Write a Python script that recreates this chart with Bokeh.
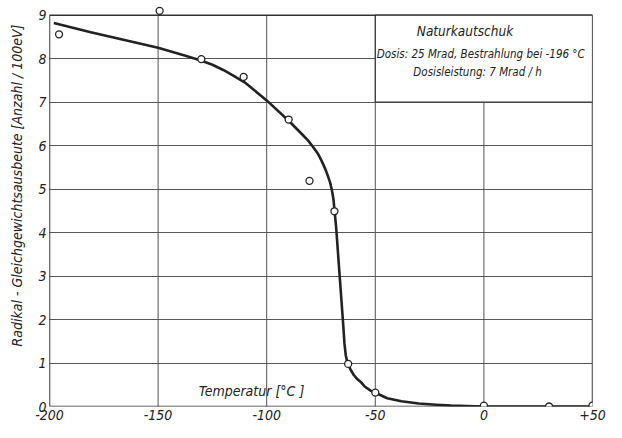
from bokeh.plotting import figure
from bokeh.models import FixedTicker, Label, Range1d, Title
from bokeh.embed import file_html
from bokeh.resources import INLINE

# measured points (temperature in degC, radical yield per 100 eV)
temp_points = [-195.6, -149.3, -130.1, -110.6, -89.9, -80.3, -68.8, -62.5, -50, 0, 30, 50]
yield_points = [8.56, 9.10, 7.99, 7.58, 6.60, 5.19, 4.49, 0.98, 0.32, 0.02, 0.0, 0.02]

# drawn curve
curve_temp = [-198, -181, -166.5, -150, -137, -130, -125, -120, -115, -110, -100, -89.4,
              -83.5, -81, -78.8, -76.5, -74.7, -73, -71.8, -70.8, -70.0, -69.3, -68.8,
              -68.0, -67.2, -66.4, -65.6, -64.8, -64.2, -63.6, -63.0, -62.5, -61.5,
              -60.0, -58.5, -56.4, -54.9, -52, -48, -44.5, -38, -30, -22, -15, -8, 0, 15, 30, 50]
curve_yield = [8.82, 8.61, 8.44, 8.25, 8.06, 7.95, 7.86, 7.74, 7.60, 7.45, 7.04, 6.55,
               6.25, 6.12, 5.98, 5.82, 5.65, 5.46, 5.30, 5.15, 4.98, 4.78, 4.53,
               4.10, 3.55, 3.00, 2.45, 1.90, 1.45, 1.18, 1.04, 0.97, 0.86,
               0.73, 0.64, 0.55, 0.46, 0.36, 0.27, 0.19, 0.12, 0.07, 0.04, 0.02, 0.01, 0.0, 0.0, 0.0, 0.0]

x_ticks = [-200, -150, -100, -50, 0, 50]
x_tick_labels = ["-200", "-150", "-100", "-50", "0", "+50"]
y_ticks = [0, 1, 2, 3, 4, 5, 6, 7, 8, 9]
x_min, x_max = -200, 50
y_min, y_max = 0, 9

title_text = "Naturkautschuk"
info_line1 = "Dosis: 25 Mrad,  Bestrahlung bei -196 °C"
info_line2 = "Dosisleistung: 7 Mrad / h"
x_title = "Temperatur [°C ]"
y_title = "Radikal - Gleichgewichtsausbeute [Anzahl / 100eV]"

FONT = "DejaVu Sans Condensed"
INK = "#222222"
GRID = "#555555"

p = figure(width=606, height=422, output_backend="svg", toolbar_location=None,
           x_range=Range1d(x_min, x_max), y_range=Range1d(y_min, 9.2),
           min_border_left=46, min_border_right=14, min_border_top=6, min_border_bottom=16)
p.outline_line_color = None
p.background_fill_color = "white"
p.border_fill_color = "white"

# axes
p.xaxis.ticker = FixedTicker(ticks=x_ticks)
p.yaxis.ticker = FixedTicker(ticks=y_ticks)
p.xaxis.major_label_overrides = {t: l for t, l in zip(x_ticks, x_tick_labels)}
for ax in (p.xaxis, p.yaxis):
    ax.axis_line_color = None
    ax.major_tick_line_color = None
    ax.minor_tick_line_color = None
    ax.major_tick_out = 0
    ax.major_tick_in = 0
    ax.major_label_text_font = FONT
    ax.major_label_text_font_style = "italic"
    ax.major_label_text_font_size = "14px"
    ax.major_label_text_color = INK
    ax.major_label_standoff = 3

# y axis title, shifted along the axis like in the reference
p.add_layout(Title(text=y_title, align="left", offset=60, standoff=17, vertical_align="top",
                   text_font=FONT, text_font_style="italic", text_font_size="14px",
                   text_color=INK), "left")

# grid
p.xgrid.grid_line_color = None
p.ygrid.ticker = FixedTicker(ticks=y_ticks)
p.ygrid.grid_line_color = GRID
p.ygrid.grid_line_width = 1
p.segment(x0=x_ticks, y0=[y_min] * len(x_ticks), x1=x_ticks, y1=[y_max] * len(x_ticks),
          line_color=GRID, line_width=1)

# frame border
p.quad(left=[x_min], right=[x_max], bottom=[y_min], top=[y_max],
       fill_color=None, line_color="#333333", line_width=1.5)

# info box
p.quad(left=[-50], right=[50], bottom=[7], top=[9],
       fill_color="white", line_color="#333333", line_width=1.2)

# curve and points
p.line(curve_temp, curve_yield, line_color=INK, line_width=2.6, line_join="round")
p.scatter(temp_points, yield_points, marker="circle", size=7,
          fill_color="white", line_color=INK, line_width=1.3)

# texts
p.add_layout(Label(x=-8.7, y=8.63, text=title_text, text_align="center", text_baseline="middle",
                   text_font=FONT, text_font_style="italic", text_font_size="13.5px", text_color=INK))
p.add_layout(Label(x=-0.7, y=8.11, text=info_line1, text_align="center", text_baseline="middle",
                   text_font=FONT, text_font_style="italic", text_font_size="11.5px", text_color=INK))
p.add_layout(Label(x=-2.9, y=7.70, text=info_line2, text_align="center", text_baseline="middle",
                   text_font=FONT, text_font_style="italic", text_font_size="11.5px", text_color=INK))
p.add_layout(Label(x=-107, y=0.36, text=x_title, text_align="center", text_baseline="middle",
                   text_font=FONT, text_font_style="italic", text_font_size="14px", text_color=INK))

open("out.html", "w").write(file_html(p, INLINE))
